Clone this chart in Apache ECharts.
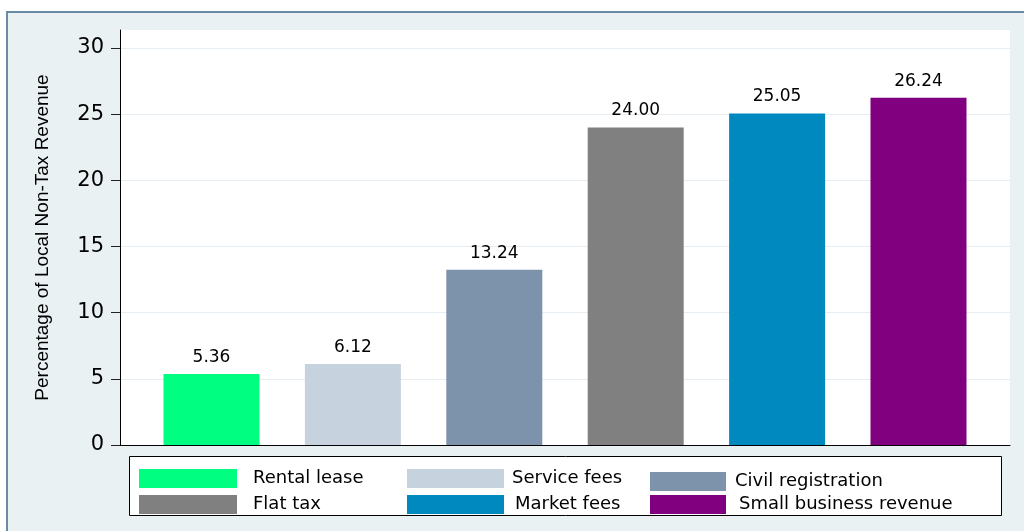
<!DOCTYPE html>
<html><head><meta charset="utf-8">
<script src="https://cdn.jsdelivr.net/npm/echarts@6/dist/echarts.min.js"></script>
<style>html,body{margin:0;padding:0;background:#fff}#c{width:1024px;height:531px}</style>
</head><body><div id="c"></div>
<script>
const categories = ['Rental lease', 'Service fees', 'Civil registration', 'Flat tax', 'Market fees', 'Small business revenue'];
const values = [5.36, 6.12, 13.24, 24.00, 25.05, 26.24];
const colors = ['#00FF80', '#C6D2DE', '#7D93AB', '#808080', '#0089BF', '#800080'];
const yTicks = [0, 5, 10, 15, 20, 25, 30];
const yTitle = 'Percentage of Local Non-Tax Revenue';

// legend layout (styling only)
const legendLayout = [
  {left: 139, top: 469, w: 98, gap: 11},
  {left: 407, top: 469, w: 97, gap: 3},
  {left: 650, top: 472, w: 76, gap: 4},
  {left: 139, top: 495, w: 98, gap: 11},
  {left: 407, top: 495, w: 97, gap: 6},
  {left: 650, top: 495, w: 76, gap: 8}
];
const FONT = 'DejaVu Sans';

const chart = echarts.init(document.getElementById('c'), null, {renderer: 'canvas'});
chart.setOption({
  animation: false,
  backgroundColor: '#ffffff',
  graphic: [
    {type: 'rect', z: -100, silent: true, shape: {x: 7, y: 12, width: 1040, height: 540},
     style: {fill: '#EAF1F3', stroke: '#6A8BA5', lineWidth: 2}},
    {type: 'rect', z: 1, silent: true, shape: {x: 129.5, y: 456.5, width: 872, height: 59},
     style: {fill: '#ffffff', stroke: '#000000', lineWidth: 1}}
  ],
  grid: {left: 120, top: 30, width: 890, height: 415, show: true, backgroundColor: '#ffffff', borderWidth: 0, containLabel: false},
  legend: categories.map((n, i) => ({
    data: [n], selectedMode: false, padding: 0, orient: 'horizontal',
    left: legendLayout[i].left, top: legendLayout[i].top,
    itemWidth: legendLayout[i].w, itemHeight: 19, icon: 'rect',
    textStyle: {fontFamily: FONT, fontSize: 18, color: '#000', lineHeight: 19, padding: [0, 0, 0, legendLayout[i].gap]}
  })),
  xAxis: {
    type: 'value', min: 0.353, max: 6.647,
    axisLine: {show: true, lineStyle: {color: '#000', width: 1}},
    axisTick: {show: false}, axisLabel: {show: false}, splitLine: {show: false}
  },
  yAxis: {
    type: 'value', min: 0, max: 31.36, interval: 5,
    name: yTitle, nameLocation: 'middle', nameGap: 68,
    nameTextStyle: {fontFamily: 'Liberation Sans', fontSize: 19, color: '#000'},
    axisLine: {show: true, lineStyle: {color: '#000', width: 1}},
    axisTick: {show: true, length: 9, customValues: yTicks, lineStyle: {color: '#222'}},
    axisLabel: {customValues: yTicks, margin: 16, fontFamily: FONT, fontSize: 21, color: '#000'},
    splitLine: {show: true, lineStyle: {color: '#E6EEF3', width: 1}}
  },
  series: categories.map((n, i) => ({
    name: n, type: 'bar', barWidth: 96, barGap: '-100%',
    data: [[i + 1, values[i]]],
    itemStyle: {color: colors[i]},
    label: {show: true, position: 'top', distance: 8, fontFamily: FONT, fontSize: 17, color: '#000',
            formatter: p => p.value[1].toFixed(2)}
  }))
});
</script></body></html>
